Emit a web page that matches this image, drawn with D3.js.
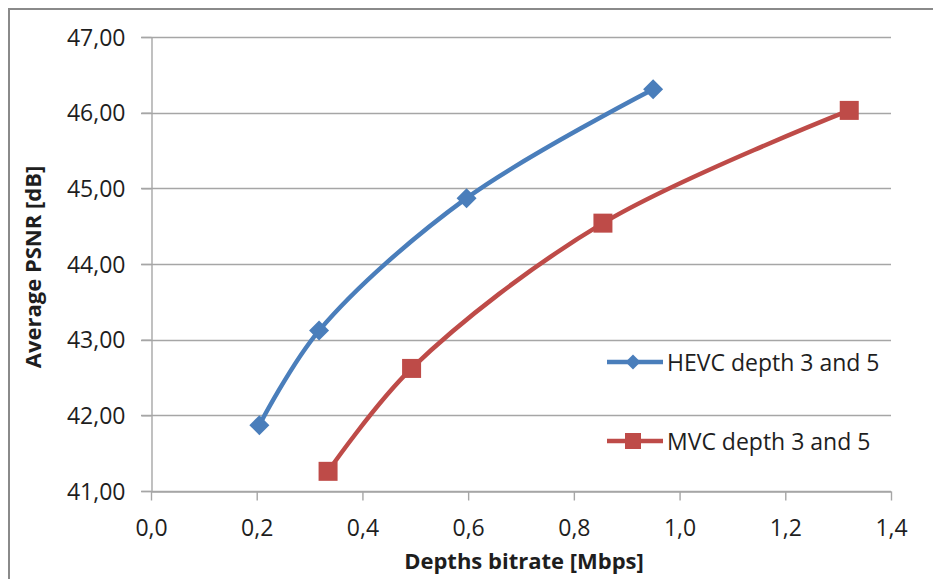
<!DOCTYPE html>
<html>
<head>
<meta charset="utf-8">
<script src="https://cdn.jsdelivr.net/npm/d3@7"></script>
<style>
  html, body { margin: 0; padding: 0; background: #fff; }
  svg { display: block; }
  text { font-family: "Open Sans", "Noto Sans", sans-serif; fill: #1e1e1e; }
</style>
</head>
<body>
<svg id="chart" width="933" height="579"></svg>
<script>
// ---- data ----
const seriesNames = ["HEVC depth 3 and 5", "MVC depth 3 and 5"];
const hevcX = [0.205, 0.318, 0.597, 0.950];
const hevcY = [41.87, 43.12, 44.87, 46.31];
const mvcX = [0.335, 0.493, 0.855, 1.321];
const mvcY = [41.26, 42.62, 44.54, 46.03];
const xTicks = [0.0, 0.2, 0.4, 0.6, 0.8, 1.0, 1.2, 1.4];
const yTicks = [41, 42, 43, 44, 45, 46, 47];
const xTitle = "Depths bitrate [Mbps]";
const yTitle = "Average PSNR [dB]";

// ---- layout ----
const svg = d3.select("#chart");
const W = 933, H = 579;
const pL = 151, pR = 891, pT = 37, pB = 491;
const gridColor = "#a6a6a6";
const colors = ["#4a7ebb", "#be4b48"];

svg.append("rect").attr("x", 0).attr("y", 0).attr("width", W).attr("height", H).attr("fill", "#fff");
// outer frame
svg.append("rect").attr("x", 9).attr("y", 9).attr("width", W + 10).attr("height", H + 10)
  .attr("fill", "none").attr("stroke", "#8a8a8a").attr("stroke-width", 2);

const x = d3.scaleLinear().domain([0, 1.4]).range([pL, pR]);
const y = d3.scaleLinear().domain([41, 47]).range([pB, pT]);

const fmtX = v => d3.format(".1f")(v).replace(".", ",");
const fmtY = v => d3.format(".2f")(v).replace(".", ",");

// gridlines
svg.append("g").selectAll("line").data(yTicks).join("line")
  .attr("x1", pL - 10).attr("x2", pR)
  .attr("y1", d => Math.round(y(d)) + 0.5).attr("y2", d => Math.round(y(d)) + 0.5)
  .attr("stroke", gridColor).attr("stroke-width", 1.4);

// y axis
const yAxis = svg.append("g").attr("transform", `translate(${pL + 0.5},0)`)
  .call(d3.axisLeft(y).tickValues(yTicks).tickFormat(fmtY).tickSize(10).tickSizeOuter(0).tickPadding(16));
yAxis.select(".domain").attr("stroke", gridColor).attr("stroke-width", 1.4);
yAxis.selectAll(".tick line").attr("stroke", gridColor).attr("stroke-width", 1.4);
yAxis.selectAll(".tick text").attr("font-size", 23).attr("font-family", "Open Sans")
  .attr("fill", "#1e1e1e").attr("dy", "0.35em");

// x axis
const xAxis = svg.append("g").attr("transform", `translate(0,${pB + 0.5})`)
  .call(d3.axisBottom(x).tickValues(xTicks).tickFormat(fmtX).tickSize(9).tickSizeOuter(0).tickPadding(19));
xAxis.select(".domain").attr("stroke", gridColor).attr("stroke-width", 1.4);
xAxis.selectAll(".tick line").attr("stroke", gridColor).attr("stroke-width", 1.4);
xAxis.selectAll(".tick text").attr("font-size", 23).attr("font-family", "Open Sans")
  .attr("fill", "#1e1e1e").attr("dy", "0.71em");

// axis titles
svg.append("text").attr("x", (pL + pR) / 2 + 3).attr("y", 569)
  .attr("text-anchor", "middle").attr("font-size", 22).attr("font-weight", "bold")
  .text(xTitle);
svg.append("text").attr("transform", `translate(41,${(pT + pB) / 2 + 3}) rotate(-90)`)
  .attr("text-anchor", "middle").attr("font-size", 22).attr("font-weight", "bold")
  .text(yTitle);

// series
const series = [
  { name: seriesNames[0], xs: hevcX, ys: hevcY, color: colors[0], marker: "diamond" },
  { name: seriesNames[1], xs: mvcX, ys: mvcY, color: colors[1], marker: "square" }
];
const line = d3.line().x(d => x(d[0])).y(d => y(d[1])).curve(d3.curveCatmullRom.alpha(0.5));

function drawMarker(g, type, cx, cy, size, color) {
  if (type === "diamond") {
    const r = size / 2;
    g.append("path").attr("d", `M${cx},${cy - r}L${cx + r},${cy}L${cx},${cy + r}L${cx - r},${cy}Z`)
      .attr("fill", color);
  } else {
    g.append("rect").attr("x", cx - size / 2).attr("y", cy - size / 2)
      .attr("width", size).attr("height", size).attr("fill", color);
  }
}

series.forEach(s => {
  const pts = s.xs.map((v, i) => [v, s.ys[i]]);
  svg.append("path").datum(pts).attr("d", line).attr("fill", "none")
    .attr("stroke", s.color).attr("stroke-width", 4.5).attr("stroke-linejoin", "round");
  const g = svg.append("g");
  pts.forEach(p => drawMarker(g, s.marker, x(p[0]), y(p[1]), s.marker === "diamond" ? 20 : 19, s.color));
});

// legend
const legY = [362, 441];
series.forEach((s, i) => {
  const g = svg.append("g");
  g.append("line").attr("x1", 607).attr("x2", 663).attr("y1", legY[i]).attr("y2", legY[i])
    .attr("stroke", s.color).attr("stroke-width", 4.5);
  drawMarker(g, s.marker, 633, legY[i], s.marker === "diamond" ? 15 : 16, s.color);
  g.append("text").attr("x", 667).attr("y", legY[i] + 9).attr("font-size", 23)
    .text(s.name);
});
</script>
</body>
</html>
